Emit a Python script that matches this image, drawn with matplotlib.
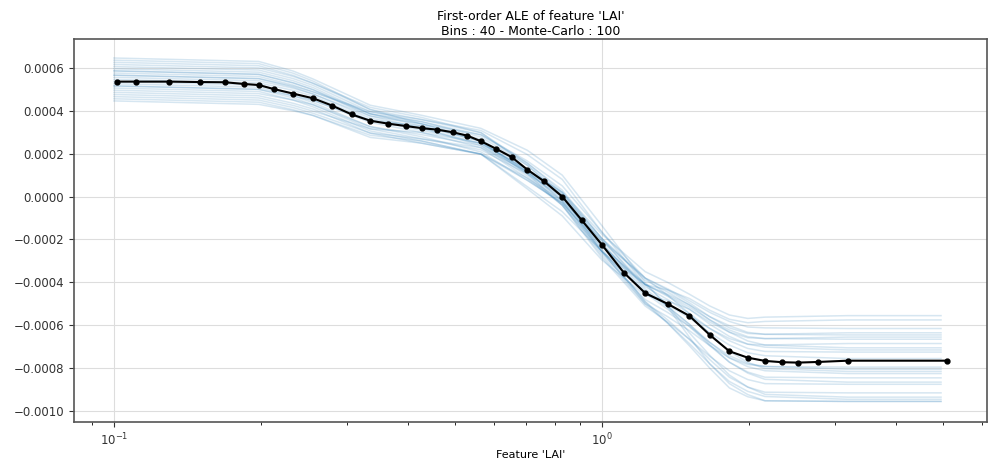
import numpy as np
import matplotlib
matplotlib.use("Agg")
import matplotlib.pyplot as plt
from matplotlib.ticker import FuncFormatter

# mean ALE curve (40 bins)
lai_x = [0.1013, 0.1108, 0.1298, 0.1500, 0.1688, 0.1849, 0.1982, 0.2128, 0.2331, 0.2561,
         0.2801, 0.3070, 0.3346, 0.3648, 0.3961, 0.4271, 0.4598, 0.4943, 0.5296, 0.5650,
         0.6056, 0.6531, 0.7029, 0.7605, 0.8290, 0.9098, 1.001, 1.108, 1.226, 1.363,
         1.510, 1.663, 1.824, 1.989, 2.158, 2.335, 2.518, 2.767, 3.188, 5.086]
ale_mean = [0.000536, 0.000536, 0.000536, 0.000534, 0.000533, 0.000525, 0.000520, 0.000501, 0.000480, 0.000458,
            0.000424, 0.000383, 0.000354, 0.000340, 0.000329, 0.000319, 0.000312, 0.000300, 0.000284, 0.000258,
            0.000224, 0.000184, 0.000126, 0.0000715, 0.0, -0.000111, -0.000226, -0.000354, -0.000450, -0.000500,
            -0.000556, -0.000645, -0.000721, -0.000751, -0.000766, -0.000772, -0.000774, -0.000771, -0.000765, -0.000765]

# Monte-Carlo curves, read at knots as center + offset (offsets in 1e-4)
mc_x = [0.1, 0.198, 0.233, 0.256, 0.335, 0.427, 0.565, 0.703, 0.829, 1.0,
        1.226, 1.363, 1.51, 1.663, 1.824, 1.989, 2.158, 3.188, 4.95]
mc_center = [0.000536, 0.000520, 0.000485, 0.000458, 0.000356, 0.000319, 0.000258, 0.000126, 0.0, -0.000226,
             -0.000440, -0.000505, -0.000575, -0.000650, -0.000712, -0.000748, -0.000762, -0.000765, -0.000765]
mc_offsets = [
    [0.9, 0.9, 0.8, 0.7, 0.5, 0.4, 0.5, 0.7, 0.8, 0.6, 0.3, 0.0, -0.6, -0.9, -1.2, -1.4, -1.6, -1.7, -1.7],
    [0.7, 0.7, 0.65, 0.6, 0.4, 0.3, 0.3, 0.3, 0.3, 0.3, 0.1, -0.05, -0.2, -0.4, -0.6, -0.75, -0.9, -1.0, -1.0],
    [0.5, 0.5, 0.45, 0.4, 0.3, 0.2, 0.1, 0.0, 0.0, -0.2, -0.5, -0.7, -0.9, -1.1, -1.3, -1.4, -1.5, -1.5, -1.5],
    [0.3, 0.3, 0.25, 0.2, 0.1, 0.0, -0.1, -0.2, -0.3, -0.4, -0.4, -0.35, -0.3, -0.3, -0.3, -0.3, -0.3, -0.4, -0.4],
    [0.1, 0.1, 0.1, 0.1, 0.0, -0.1, -0.1, 0.0, 0.2, 0.3, 0.5, 0.6, 0.7, 0.75, 0.8, 0.75, 0.7, 0.6, 0.6],
    [-0.1, -0.1, -0.15, -0.2, -0.3, -0.4, -0.5, -0.5, -0.3, -0.1, 0.3, 0.5, 0.7, 0.9, 1.1, 1.15, 1.2, 1.2, 1.2],
    [-0.3, -0.3, -0.35, -0.4, -0.5, -0.6, -0.6, -0.4, -0.2, 0.2, 0.6, 0.75, 0.9, 1.1, 1.3, 1.4, 1.5, 1.5, 1.5],
    [-0.5, -0.5, -0.5, -0.5, -0.6, -0.7, -0.6, -0.8, -0.7, -0.3, 0.3, 0.7, 1.0, 1.2, 1.4, 1.6, 1.8, 1.9, 1.9],
    [-0.7, -0.7, -0.7, -0.7, -0.6, -0.5, -0.3, -0.1, 0.1, 0.3, 0.6, 0.7, 0.8, 0.9, 1.0, 1.1, 1.2, 1.3, 1.3],
    [-0.8, -0.8, -0.8, -0.8, -0.8, -0.7, -0.6, -0.5, -0.3, 0.0, 0.3, 0.45, 0.6, 0.75, 0.9, 0.95, 1.0, 1.1, 1.1],
    [1.1, 1.1, 1.0, 0.9, 0.7, 0.6, 0.6, 0.9, 1.0, 0.9, 0.4, -0.1, -0.8, -1.3, -1.6, -1.75, -1.9, -1.9, -1.9],
    [0.6, 0.6, 0.55, 0.5, 0.3, 0.1, 0.0, -0.2, -0.4, -0.6, -0.7, -0.8, -0.9, -0.95, -1.0, -1.05, -1.1, -1.1, -1.1],
    [0.2, 0.2, 0.2, 0.2, 0.2, 0.2, 0.3, 0.4, 0.5, 0.6, 0.6, 0.45, 0.3, 0.1, -0.1, -0.25, -0.4, -0.5, -0.5],
    [-0.2, -0.2, -0.15, -0.1, 0.0, 0.1, 0.0, -0.1, -0.1, 0.0, 0.2, 0.25, 0.3, 0.35, 0.4, 0.4, 0.4, 0.4, 0.4],
    [-0.4, -0.4, -0.35, -0.3, -0.3, -0.3, -0.2, -0.1, -0.2, -0.3, -0.1, 0.05, 0.2, 0.35, 0.5, 0.6, 0.7, 0.8, 0.8],
    [0.4, 0.4, 0.35, 0.3, 0.3, 0.3, 0.2, 0.2, 0.1, 0.0, -0.1, -0.2, -0.3, -0.45, -0.6, -0.7, -0.8, -0.8, -0.8],
    [0.8, 0.8, 0.75, 0.7, 0.6, 0.5, 0.4, 0.2, 0.0, -0.3, -0.6, -0.85, -1.1, -1.3, -1.5, -1.6, -1.7, -1.8, -1.8],
    [-0.6, -0.6, -0.6, -0.6, -0.4, -0.2, -0.1, 0.0, 0.2, 0.5, 0.9, 1.05, 1.2, 1.4, 1.6, 1.8, 2.0, 2.1, 2.1],
    [0.0, 0.0, -0.05, -0.1, -0.1, -0.2, -0.3, -0.4, -0.4, -0.3, -0.1, 0.0, 0.1, 0.15, 0.2, 0.2, 0.2, 0.1, 0.1],
    [0.3, 0.3, 0.3, 0.3, 0.4, 0.4, 0.4, 0.3, 0.2, 0.1, 0.0, -0.1, -0.2, -0.3, -0.4, -0.45, -0.5, -0.6, -0.6],
    [-0.9, -0.9, -0.85, -0.8, -0.7, -0.6, -0.6, -0.9, -0.9, -0.7, -0.2, 0.2, 0.5, 0.65, 0.8, 0.9, 1.0, 1.0, 1.0],
    [1.0, 1.0, 0.9, 0.8, 0.5, 0.2, 0.0, -0.1, -0.2, -0.3, -0.5, -0.85, -1.2, -1.5, -1.8, -1.85, -1.9, -1.9, -1.9],
    [-0.2, -0.2, -0.25, -0.3, -0.4, -0.5, -0.4, -0.2, 0.0, 0.2, 0.3, 0.4, 0.5, 0.55, 0.6, 0.6, 0.6, 0.5, 0.5],
    [0.5, 0.5, 0.45, 0.4, 0.2, 0.0, -0.2, -0.3, -0.4, -0.5, -0.6, -0.55, -0.5, -0.45, -0.4, -0.35, -0.3, -0.3, -0.3],
]

fig = plt.figure(figsize=(9.99, 4.58), dpi=100)
ax = fig.add_axes([0.074, 0.079, 0.914, 0.836])

center = np.array(mc_center)
for off in mc_offsets:
    ax.plot(mc_x, center + np.array(off) * 1e-4, color="#1f77b4", alpha=0.18, lw=1.1)

ax.plot(lai_x, ale_mean, color="black", lw=1.5, marker="o", markersize=3.5)

ax.set_xscale("log")
ax.set_xlim(0.0828, 6.15)
ax.set_ylim(-0.00105, 0.000735)
ax.set_yticks([-0.0010, -0.0008, -0.0006, -0.0004, -0.0002, 0.0, 0.0002, 0.0004, 0.0006])
ax.yaxis.set_major_formatter(FuncFormatter(lambda v, p: ("%.4f" % v).replace("-", "\u2212")))
ax.grid(True, which="major", color="#dddddd", lw=0.8)
ax.set_axisbelow(True)
for s in ax.spines.values():
    s.set_color("#555555")
    s.set_linewidth(1.2)
ax.tick_params(labelsize=8.5, colors="#333333")

ax.set_title("First-order ALE of feature 'LAI'\nBins : 40 - Monte-Carlo : 100", fontsize=9, pad=3)
ax.set_xlabel("Feature 'LAI'", fontsize=8, labelpad=1)

fig.savefig("out.png", dpi=100)
